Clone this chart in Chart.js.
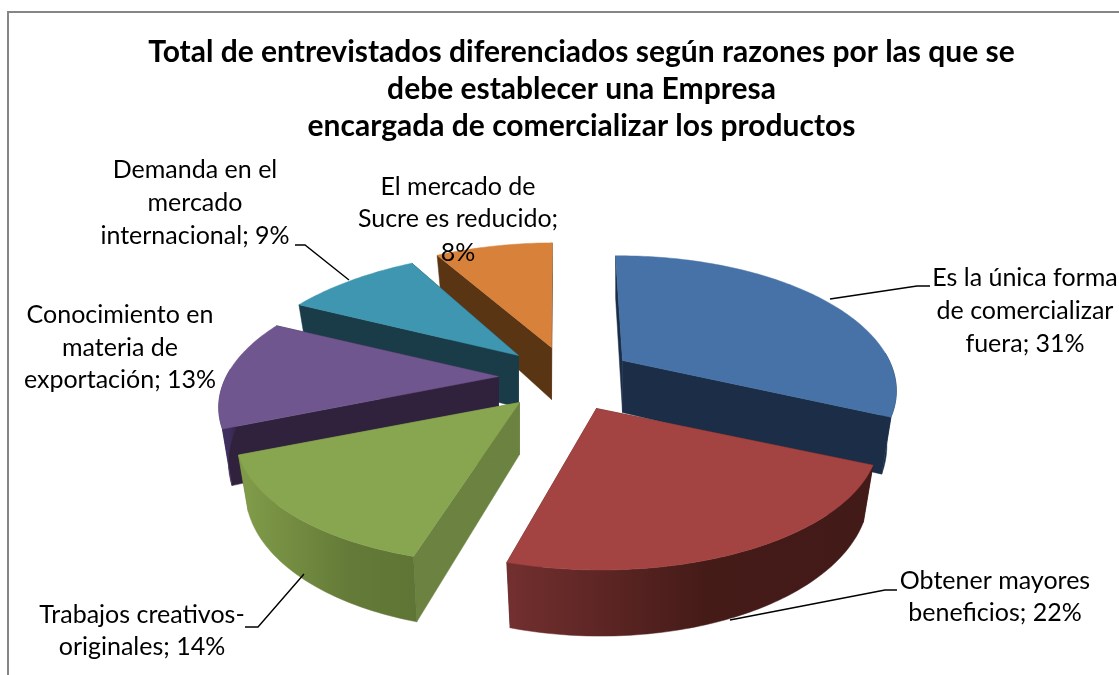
<!DOCTYPE html>
<html lang="es"><head><meta charset="utf-8">
<style>html,body{margin:0;padding:0;background:#fff}canvas{display:block}</style>
<script src="https://cdn.jsdelivr.net/npm/chart.js@4"></script>
</head><body><canvas id="c" width="1119" height="675"></canvas>
<script>
const categories = ["Es la única forma de comercializar fuera","Obtener mayores beneficios","Trabajos creativos-originales","Conocimiento en materia de exportación","Demanda en el mercado internacional","El mercado de Sucre es reducido"];
const values = [31,22,14,13,9,8];
const titleLines = ["Total de entrevistados diferenciados según razones por las que se","debe establecer una Empresa","encargada de comercializar los productos"];
const labelLines = [
 ["Es la única forma","de comercializar","fuera; 31%"],
 ["Obtener mayores","beneficios; 22%"],
 ["Trabajos creativos-","originales; 14%"],
 ["Conocimiento en","materia de","exportación; 13%"],
 ["Demanda en el","mercado","internacional; 9%"],
 ["El mercado de","Sucre es reducido;","8%"]
];
// styles
const FONT = "Lato";
const topColors = ["#4672a7","#a44442","#88a54f","#70568f","#3f96b0","#d8813b"];
const cutColors = ["#1b2d47","#4a1c19","#6b8240","#30223d","#1a3c48","#5a3514"];
const wallStops = [
 [[0,"#1b2d47"],[1,"#1b2d47"]],
 [[0,"#722f2f"],[0.55,"#451b18"],[1,"#421a17"]],
 [[0,"#7f9a48"],[0.6,"#647a38"],[1,"#5f7535"]],
 [[0,"#3f2f60"],[1,"#30223d"]],
 [[0,"#1a3c48"],[1,"#1a3c48"]],
 [[0,"#5a3514"],[1,"#5a3514"]]
];
const shifts = [[41,-15],[15,33],[-62,27],[-83,1],[-63,-20],[-30,-28]];
const widthScale = [0.97,1,1,0.99,1,1];
const skews = [0.03,0.026,-0.08,-0.04,-0.13,-0.045];
const drawOrder = [5,4,3,0,2,1];
const labelPos = [[1025,[278,311,344]],[995,[581,613]],[142,[615,647]],[120,[315,348,380]],[195,[170,203,236]],[458,[187,219,253]]];
const leaders = [[[930,286],[917,286],[830,299]],[[897,590],[885,590],[730,620]],[[245,627],[258,627],[304,574]],[[295,245],[305,245],[349,280]]];
const ASPECT = 2.165, PERSP = 0.2135, DEPTH = 52, BOTTOM_SCALE = 0.965;

function project(el, i, ang, bottom){
  const r = el.outerRadius, u = Math.cos(ang), v = Math.sin(ang), s = 1/(1-PERSP*v);
  const cx = el.x+shifts[i][0], cy = el.y+shifts[i][1], dy = r*v*s;
  return [cx + r*ASPECT*widthScale[i]*u*s*(bottom?BOTTOM_SCALE:1) + skews[i]*dy, cy + dy + (bottom?DEPTH*s:0)];
}
function arcPts(el, i, a0, a1, bottom){
  const pts=[], n=Math.max(8,Math.ceil((a1-a0)*60));
  for(let k=0;k<=n;k++) pts.push(project(el,i,a0+(a1-a0)*k/n,bottom));
  return pts;
}
function poly(ctx, pts, fill){
  ctx.beginPath(); pts.forEach((p,k)=>k?ctx.lineTo(p[0],p[1]):ctx.moveTo(p[0],p[1])); ctx.closePath();
  ctx.fillStyle=fill; ctx.fill(); ctx.strokeStyle=fill; ctx.lineWidth=0.5; ctx.stroke();
}
// the visible part of the outer wall: the arc's angles that face the viewer
function wallRange(el){
  const T=Math.PI*2, lo=-0.06, hi=Math.PI+0.06;
  let a=el.startAngle, b=el.endAngle;
  while(a<-Math.PI){a+=T;b+=T;}
  const r=[];
  [[lo,hi],[lo+T,hi+T]].forEach(w=>{
    const x=Math.max(a,w[0]), y=Math.min(b,w[1]);
    if(y>x) r.push([x,y]);
  });
  return r;
}
const pie3d = {
  id:"pie3d",
  beforeDatasetDraw(chart){
    const ctx = chart.ctx, arcs = chart.getDatasetMeta(0).data;
    ctx.save();
    drawOrder.forEach(i=>{
      const el = arcs[i], sh = shifts[i];
      const apexT=[el.x+sh[0],el.y+sh[1]], apexB=[apexT[0],apexT[1]+DEPTH];
      const top = arcPts(el,i,el.startAngle,el.endAngle,false);
      poly(ctx,[apexT,project(el,i,el.startAngle,false),project(el,i,el.startAngle,true),apexB],cutColors[i]);
      poly(ctx,[apexT,project(el,i,el.endAngle,false),project(el,i,el.endAngle,true),apexB],cutColors[i]);
      wallRange(el).forEach(rg=>{
        const t=arcPts(el,i,rg[0],rg[1],false), b=arcPts(el,i,rg[0],rg[1],true);
        const xs=b.map(p=>p[0]);
        const g=ctx.createLinearGradient(Math.min(...xs),0,Math.max(...xs),0);
        wallStops[i].forEach(s=>g.addColorStop(s[0],s[1]));
        poly(ctx,t.concat(b.slice().reverse()),g);
      });
      poly(ctx,[apexT].concat(top),topColors[i]);
    });
    ctx.restore();
    return false;
  },
  afterDraw(chart){
    const ctx = chart.ctx;
    ctx.save();
    ctx.strokeStyle="#868686"; ctx.lineWidth=2;
    ctx.beginPath(); ctx.moveTo(8,675); ctx.lineTo(8,12); ctx.lineTo(1119,12); ctx.stroke();
    ctx.strokeStyle="#000"; ctx.lineWidth=1.4;
    leaders.forEach(l=>{ctx.beginPath(); l.forEach((p,k)=>k?ctx.lineTo(p[0],p[1]):ctx.moveTo(p[0],p[1])); ctx.stroke();});
    ctx.fillStyle="#000"; ctx.font=`25px ${FONT}`; ctx.textAlign="center"; ctx.textBaseline="middle";
    labelLines.forEach((ls,i)=>ls.forEach((t,j)=>ctx.fillText(t,labelPos[i][0],labelPos[i][1][j])));
    ctx.restore();
  }
};
new Chart(document.getElementById("c"),{
  type:"pie",
  data:{labels:categories,datasets:[{data:values,backgroundColor:topColors,borderWidth:0,radius:127}]},
  options:{
    responsive:false,animation:false,rotation:-1,
    layout:{padding:{bottom:69,left:44}},
    plugins:{
      legend:{display:false},tooltip:{enabled:false},
      title:{display:true,text:titleLines,color:"#000",font:{family:FONT,size:30,weight:"bold",lineHeight:1.233},padding:{top:34,bottom:0}}
    }
  },
  plugins:[pie3d]
});
</script></body></html>
